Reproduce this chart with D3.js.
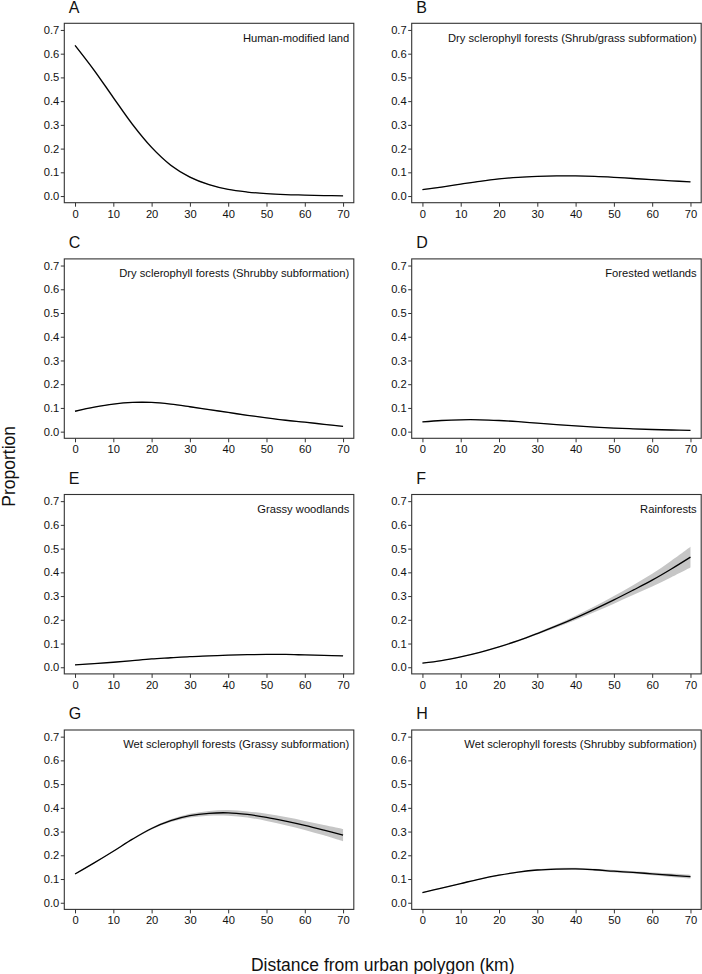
<!DOCTYPE html>
<html>
<head>
<meta charset="utf-8">
<script src="https://cdn.jsdelivr.net/npm/d3@7"></script>
<style>
  html, body { margin: 0; padding: 0; background: #fff; }
  svg { display: block; }
  text { font-family: "Liberation Sans", Arial, sans-serif; }
</style>
</head>
<body>
<script>
// ---- data ----
const distance = [0, 5, 10, 15, 20, 25, 30, 35, 40, 45, 50, 55, 60, 65, 70];
const xTicks = [0, 10, 20, 30, 40, 50, 60, 70];
const yTicks = [0, 0.1, 0.2, 0.3, 0.4, 0.5, 0.6, 0.7];
const panelLetters = ["A", "B", "C", "D", "E", "F", "G", "H"];
const panelTitles = [
  "Human-modified land",
  "Dry sclerophyll forests (Shrub/grass subformation)",
  "Dry sclerophyll forests (Shrubby subformation)",
  "Forested wetlands",
  "Grassy woodlands",
  "Rainforests",
  "Wet sclerophyll forests (Grassy subformation)",
  "Wet sclerophyll forests (Shrubby subformation)"
];
// fitted proportions
const fitA = [0.635, 0.530, 0.415, 0.302, 0.205, 0.130, 0.080, 0.048, 0.028, 0.017, 0.010, 0.006, 0.004, 0.002, 0.001];
const fitB = [0.027, 0.038, 0.050, 0.062, 0.072, 0.079, 0.083, 0.085, 0.085, 0.083, 0.079, 0.074, 0.069, 0.064, 0.060];
const fitC = [0.086, 0.103, 0.116, 0.123, 0.123, 0.116, 0.105, 0.093, 0.081, 0.069, 0.058, 0.048, 0.040, 0.031, 0.022];
const fitD = [0.041, 0.047, 0.050, 0.050, 0.047, 0.042, 0.036, 0.030, 0.024, 0.019, 0.015, 0.012, 0.009, 0.007, 0.005];
const fitE = [0.010, 0.015, 0.021, 0.028, 0.035, 0.040, 0.045, 0.048, 0.051, 0.053, 0.054, 0.054, 0.052, 0.050, 0.048];
const fitF = [0.017, 0.028, 0.044, 0.063, 0.086, 0.112, 0.142, 0.174, 0.208, 0.245, 0.284, 0.325, 0.367, 0.414, 0.464];
const fitG = [0.121, 0.168, 0.217, 0.268, 0.313, 0.346, 0.367, 0.377, 0.379, 0.372, 0.360, 0.344, 0.326, 0.306, 0.285];
const fitH = [0.043, 0.062, 0.081, 0.100, 0.116, 0.129, 0.138, 0.142, 0.143, 0.139, 0.133, 0.128, 0.122, 0.116, 0.110];
// half-widths of the confidence band
const bandA = [0.004, 0.005, 0.006, 0.006, 0.005, 0.004, 0.003, 0.002, 0.001, 0.001, 0.001, 0.0005, 0.0005, 0.0005, 0.0005];
const bandB = [0.002, 0.002, 0.0015, 0.0015, 0.0015, 0.0015, 0.0015, 0.0015, 0.0015, 0.0015, 0.0015, 0.002, 0.002, 0.002, 0.002];
const bandC = [0.002, 0.002, 0.002, 0.002, 0.002, 0.002, 0.002, 0.002, 0.002, 0.002, 0.002, 0.002, 0.002, 0.002, 0.002];
const bandD = [0.0015, 0.0015, 0.0015, 0.0015, 0.0015, 0.0015, 0.0015, 0.0015, 0.0015, 0.0015, 0.0015, 0.0015, 0.0015, 0.0015, 0.0015];
const bandE = [0.0015, 0.0015, 0.0015, 0.0015, 0.0015, 0.0015, 0.0015, 0.0015, 0.0015, 0.0015, 0.0015, 0.0015, 0.0015, 0.0015, 0.0015];
const bandF = [0.002, 0.002, 0.002, 0.002, 0.002, 0.003, 0.004, 0.006, 0.009, 0.012, 0.016, 0.021, 0.027, 0.035, 0.044];
const bandG = [0.002, 0.002, 0.002, 0.003, 0.004, 0.006, 0.008, 0.010, 0.012, 0.013, 0.015, 0.017, 0.019, 0.022, 0.026];
const bandH = [0.002, 0.002, 0.002, 0.002, 0.003, 0.003, 0.003, 0.004, 0.004, 0.004, 0.005, 0.005, 0.006, 0.007, 0.008];
const xLabel = "Distance from urban polygon (km)";
const yLabel = "Proportion";

const fits = [fitA, fitB, fitC, fitD, fitE, fitF, fitG, fitH];
const bands = [bandA, bandB, bandC, bandD, bandE, bandF, bandG, bandH];

// ---- layout ----
const W = 702, H = 974;
const colLeft = [64.3, 411.7];
const rowTop = [23.3, 258.9, 494.5, 730.0];
const pw = 289.5, ph = 179.4;

const svg = d3.select("body").append("svg").attr("width", W).attr("height", H);

const x = d3.scaleLinear().domain([-2.8, 72.8]).range([0, pw]);
const y = d3.scaleLinear().domain([-0.028, 0.728]).range([ph, 0]);

const curve = d3.curveCatmullRom.alpha(0.5);
const line = d3.line().x(d => x(d.d)).y(d => y(d.v)).curve(curve);
const area = d3.area().x(d => x(d.d)).y0(d => y(d.lo)).y1(d => y(d.hi)).curve(curve);

panelLetters.forEach((letter, i) => {
  const col = i % 2, row = Math.floor(i / 2);
  const g = svg.append("g").attr("transform", `translate(${colLeft[col]},${rowTop[row]})`);
  const pts = distance.map((d, k) => ({ d, v: fits[i][k], lo: fits[i][k] - bands[i][k], hi: fits[i][k] + bands[i][k] }));

  g.append("path").datum(pts).attr("d", area).attr("fill", "#c6c6c6").attr("stroke", "none");
  g.append("path").datum(pts).attr("d", line).attr("fill", "none").attr("stroke", "#000").attr("stroke-width", 1.3);

  const xa = g.append("g").attr("transform", `translate(0,${ph})`)
    .call(d3.axisBottom(x).tickValues(xTicks).tickSize(4).tickPadding(3).tickFormat(d3.format("d")));
  const ya = g.append("g")
    .call(d3.axisLeft(y).tickValues(yTicks).tickSize(3.5).tickPadding(1.5).tickFormat(d3.format(".1f")));
  [xa, ya].forEach(a => {
    a.select(".domain").remove();
    a.selectAll("line").attr("stroke", "#333");
    a.selectAll("text").attr("fill", "#111").style("font-size", "11.2px").style("font-family", '"Liberation Sans", Arial, sans-serif');
  });

  g.append("rect").attr("x", 0).attr("y", 0).attr("width", pw).attr("height", ph)
    .attr("fill", "none").attr("stroke", "#333").attr("stroke-width", 1.1);

  g.append("text").attr("x", pw - 4.5).attr("y", 18.4).attr("text-anchor", "end")
    .style("font-size", "11.2px").attr("fill", "#111").text(panelTitles[i]);

  g.append("text").attr("x", 4.5).attr("y", -10.8)
    .style("font-size", "16px").attr("fill", "#111").text(letter);
});

svg.append("text").attr("x", (colLeft[0] + colLeft[1] + pw) / 2).attr("y", 970.5)
  .attr("text-anchor", "middle").style("font-size", "17.5px").attr("fill", "#111").text(xLabel);

svg.append("text").attr("transform", `translate(14.5,${(rowTop[0] + rowTop[3] + ph) / 2}) rotate(-90)`)
  .attr("text-anchor", "middle").style("font-size", "17.5px").attr("fill", "#111").text(yLabel);
</script>
</body>
</html>
